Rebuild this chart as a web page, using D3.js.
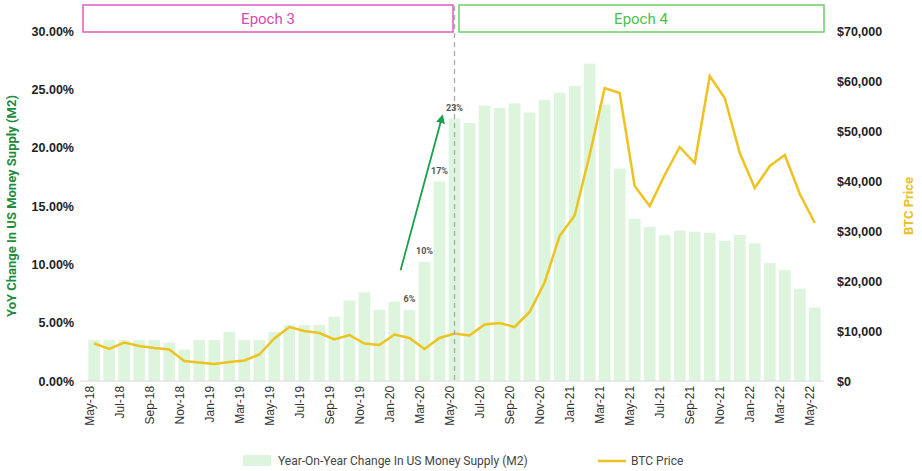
<!DOCTYPE html><html><head><script src="https://cdn.jsdelivr.net/npm/d3@7"></script>
<style>body{margin:0;background:#fff;font-family:Roboto,Arial,sans-serif}</style></head><body><svg id="c" width="922" height="471"></svg>
<script>
const months=["May-18","Jun-18","Jul-18","Aug-18","Sep-18","Oct-18","Nov-18","Dec-18","Jan-19","Feb-19","Mar-19","Apr-19","May-19","Jun-19","Jul-19","Aug-19","Sep-19","Oct-19","Nov-19","Dec-19","Jan-20","Feb-20","Mar-20","Apr-20","May-20","Jun-20","Jul-20","Aug-20","Sep-20","Oct-20","Nov-20","Dec-20","Jan-21","Feb-21","Mar-21","Apr-21","May-21","Jun-21","Jul-21","Aug-21","Sep-21","Oct-21","Nov-21","Dec-21","Jan-22","Feb-22","Mar-22","Apr-22","May-22"];
const m2=[3.5,3.5,3.5,3.5,3.5,3.3,2.7,3.5,3.5,4.2,3.5,3.5,4.2,4.8,4.8,4.8,5.5,6.9,7.6,6.1,6.8,6.1,10.2,17.1,22.5,22.1,23.6,23.4,23.8,23.0,24.1,24.7,25.3,27.2,23.7,18.2,13.9,13.2,12.5,12.9,12.8,12.7,12.0,12.5,11.8,10.1,9.5,7.9,6.3];
const btc=[7500,6400,7700,7000,6600,6300,4000,3700,3400,3800,4100,5300,8500,10800,10000,9600,8300,9200,7500,7200,9300,8600,6400,8600,9500,9100,11300,11600,10800,13800,19700,29000,33100,45200,58600,57600,39000,35000,41200,46800,43600,61000,56600,45600,38600,43000,45200,37400,31600];
const leftTicks=[0,5,10,15,20,25,30];
const rightTicks=[0,10000,20000,30000,40000,50000,60000,70000];
const annot=[{m:"Feb-20",t:"6%"},{m:"Mar-20",t:"10%"},{m:"Apr-20",t:"17%"},{m:"May-20",t:"23%"}];
const svg=d3.select("#c");
const L=85,R=824,T=31,B=381;
const x=d3.scaleBand().domain(months).range([L,R]).padding(0.22);
const y=d3.scaleLinear().domain([0,30]).range([B,T]);
const y2=d3.scaleLinear().domain([0,70000]).range([B,T]);
svg.append("g").selectAll("rect").data(m2).join("rect").attr("x",(d,i)=>x(months[i])).attr("width",x.bandwidth()).attr("y",d=>y(d)).attr("height",d=>B-y(d)).attr("fill","#dcf5dc");
svg.append("line").attr("x1",L-5).attr("x2",R).attr("y1",B).attr("y2",B).attr("stroke","#d9d9d9");
const ax=svg.append("g").attr("transform",`translate(0,${B})`).call(d3.axisBottom(x).tickValues(months.filter((d,i)=>i%2==0)).tickSize(0).tickPadding(6));
ax.select(".domain").remove();
ax.selectAll("text").attr("transform","rotate(-90)").attr("text-anchor","end").attr("dx","-0.4em").attr("dy","-0.55em").attr("font-size",12).attr("fill","#333");
const ay=svg.append("g").attr("transform",`translate(${L-8},0)`).call(d3.axisLeft(y).tickValues(leftTicks).tickSize(0).tickFormat(d=>d.toFixed(2)+"%"));
ay.select(".domain").remove();ay.selectAll("text").attr("font-size",12.5).attr("font-weight","bold").attr("fill","#222");
const ay2=svg.append("g").attr("transform",`translate(${R+10},0)`).call(d3.axisRight(y2).tickValues(rightTicks).tickSize(0).tickFormat(d=>"$"+d3.format(",")(d)));
ay2.select(".domain").remove();ay2.selectAll("text").attr("font-size",12.5).attr("font-weight","bold").attr("fill","#222");
svg.append("text").attr("transform","translate(16,206) rotate(-90)").attr("text-anchor","middle").attr("font-size",13).attr("font-weight","bold").attr("fill","#228c3e").text("YoY Change In US Money Supply (M2)");
svg.append("text").attr("transform","translate(913,206) rotate(-90)").attr("text-anchor","middle").attr("font-size",13).attr("font-weight","bold").attr("fill","#e8c02a").text("BTC Price");
const cx=i=>x(months[i])+x.bandwidth()/2;
svg.append("path").datum(btc).attr("fill","none").attr("stroke","#eec21f").attr("stroke-width",2.5).attr("d",d3.line().x((d,i)=>cx(i)).y(d=>y2(d)));
const xm=x("May-20")+x.bandwidth()/2;
svg.append("line").attr("x1",xm).attr("x2",xm).attr("y1",6).attr("y2",B).attr("stroke","#aaa").attr("stroke-dasharray","5,4").attr("stroke-width",1.3);
svg.selectAll(".an").data(annot).join("text").attr("x",d=>x(d.m)+x.bandwidth()/2).attr("y",d=>y(m2[months.indexOf(d.m)])-8).attr("text-anchor","middle").attr("font-size",9).attr("font-weight","bold").attr("fill","#555").text(d=>d.t);
svg.append("defs").append("marker").attr("id","ah").attr("viewBox","0 0 10 10").attr("refX",5).attr("refY",5).attr("markerWidth",5).attr("markerHeight",5).attr("orient","auto").append("path").attr("d","M0,0L10,5L0,10z").attr("fill","#1aa04a");
svg.append("line").attr("x1",x("Jan-20")+12).attr("y1",y(9.5)).attr("x2",x("Apr-20")+8).attr("y2",y(22.5)).attr("stroke","#1aa04a").attr("stroke-width",1.8).attr("marker-end","url(#ah)");
svg.append("rect").attr("x",83).attr("y",5).attr("width",370).attr("height",27).attr("fill","none").attr("stroke","#e05cc0").attr("stroke-width",1.5);
svg.append("text").attr("x",268).attr("y",24).attr("text-anchor","middle").attr("font-size",15).attr("fill","#d84ab0").text("Epoch 3");
svg.append("rect").attr("x",459).attr("y",5).attr("width",365).attr("height",27).attr("fill","none").attr("stroke","#6ccf6c").attr("stroke-width",1.5);
svg.append("text").attr("x",641).attr("y",24).attr("text-anchor","middle").attr("font-size",15).attr("fill","#4cbf4c").text("Epoch 4");
svg.append("rect").attr("x",243).attr("y",455).attr("width",28).attr("height",11).attr("fill","#dcf5dc");
svg.append("text").attr("x",278).attr("y",465).attr("font-size",12).attr("fill","#444").text("Year-On-Year Change In US Money Supply (M2)");
svg.append("line").attr("x1",598).attr("x2",626).attr("y1",461).attr("y2",461).attr("stroke","#eec21f").attr("stroke-width",2.5);
svg.append("text").attr("x",631).attr("y",465).attr("font-size",12).attr("fill","#444").text("BTC Price");
</script></body></html>
